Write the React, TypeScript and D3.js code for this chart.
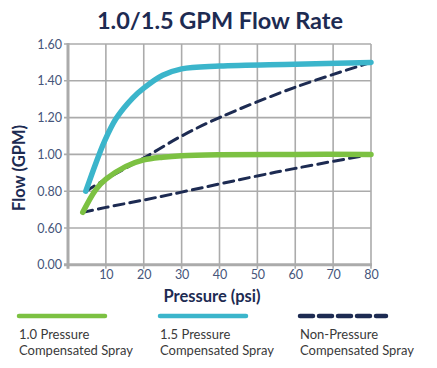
import { useEffect, useRef } from "react";
import * as d3 from "d3";

// pressure (psi) vs flow (GPM)
const pc10Pressure = [3.9, 7.4, 10, 15.3, 20, 25, 30, 40, 60, 80];
const pc10Flow = [0.685, 0.81, 0.865, 0.935, 0.97, 0.985, 0.993, 0.998, 1.0, 1.0];

const pc15Pressure = [4.7, 7.4, 9.6, 12.7, 17, 20, 25, 30, 40, 60, 80];
const pc15Flow = [0.8, 0.955, 1.07, 1.195, 1.305, 1.36, 1.43, 1.465, 1.48, 1.49, 1.5];

const npcLowPressure = [3.9, 10, 20, 30, 50, 60, 80];
const npcLowFlow = [0.685, 0.712, 0.752, 0.795, 0.883, 0.924, 1.0];

const npcHighPressure = [4.7, 10, 20, 30, 40, 60, 80];
const npcHighFlow = [0.8, 0.865, 0.98, 1.1, 1.2, 1.365, 1.5];

const xTicks = [10, 20, 30, 40, 50, 60, 70, 80];
const yTicks = [0, 0.6, 0.8, 1.0, 1.2, 1.4, 1.6];

const legendLabels = [
  ["1.0 Pressure", "Compensated Spray"],
  ["1.5 Pressure", "Compensated Spray"],
  ["Non-Pressure", "Compensated Spray"],
];

const NAVY = "#1d2b52";
const GREEN = "#7cc142";
const CYAN = "#3bb5cb";
const GRID = "#ababab";
const FONT = "Lato, 'Open Sans', sans-serif";

const zip = (xs: number[], ys: number[]) => xs.map((x, i) => [x, ys[i]] as [number, number]);

export default function App() {
  const svgRef = useRef<SVGSVGElement>(null);

  useEffect(() => {
    document.body.style.margin = "0";
    if (!svgRef.current) return;
    const svg = d3.select(svgRef.current);
    svg.selectAll("*").remove();

    const x = d3.scaleLinear().domain([0, 80]).range([68, 371]);
    // broken axis: 0.00 sits one step below 0.60
    const y = d3.scaleLinear().domain([0, 0.6, 1.6]).range([264.8, 228, 44]);

    // title
    svg
      .append("text")
      .attr("x", 220)
      .attr("y", 29)
      .attr("text-anchor", "middle")
      .attr("font-family", FONT)
      .attr("font-weight", 700)
      .attr("font-size", 23.5)
      .attr("fill", NAVY)
      .text("1.0/1.5 GPM Flow Rate");

    // grid
    const grid = svg.append("g").attr("stroke", GRID).attr("stroke-width", 1.6);
    xTicks.forEach((t) =>
      grid.append("line").attr("x1", x(t)).attr("x2", x(t)).attr("y1", y(1.6)).attr("y2", y(0) + 4)
    );
    yTicks.slice(1).forEach((t) =>
      grid.append("line").attr("x1", x(0) - 4).attr("x2", x(80)).attr("y1", y(t)).attr("y2", y(t))
    );
    // axis lines
    svg
      .append("line")
      .attr("x1", x(0)).attr("x2", x(0))
      .attr("y1", y(1.6) - 1).attr("y2", y(0) + 4)
      .attr("stroke", GRID).attr("stroke-width", 3);
    svg
      .append("line")
      .attr("x1", x(0) - 4).attr("x2", x(80) + 1)
      .attr("y1", y(0)).attr("y2", y(0))
      .attr("stroke", GRID).attr("stroke-width", 3);

    // tick labels
    const yAxis = svg
      .append("g")
      .attr("transform", `translate(${x(0) - 6},0)`)
      .call(d3.axisLeft(y).tickValues(yTicks).tickFormat(d3.format(".2f")).tickSize(0).tickPadding(0));
    yAxis.select(".domain").remove();
    yAxis
      .selectAll("text")
      .attr("font-family", FONT)
      .attr("font-size", 12.5)
      .attr("fill", "#46557a");

    const xAxis = svg
      .append("g")
      .attr("transform", `translate(0,${y(0) + 4})`)
      .call(d3.axisBottom(x).tickValues(xTicks).tickSize(0).tickPadding(0));
    xAxis.select(".domain").remove();
    xAxis
      .selectAll("text")
      .attr("dy", "0.85em")
      .attr("font-family", FONT)
      .attr("font-size", 12.5)
      .attr("fill", "#46557a");

    // axis titles
    svg
      .append("text")
      .attr("transform", `translate(25,168) rotate(-90)`)
      .attr("text-anchor", "middle")
      .attr("font-family", FONT)
      .attr("font-weight", 700)
      .attr("font-size", 16.5)
      .attr("fill", NAVY)
      .text("Flow (GPM)");
    svg
      .append("text")
      .attr("x", 212)
      .attr("y", 302)
      .attr("text-anchor", "middle")
      .attr("font-family", FONT)
      .attr("font-weight", 700)
      .attr("font-size", 16.5)
      .attr("fill", NAVY)
      .text("Pressure (psi)");

    // series
    const line = d3
      .line<[number, number]>()
      .x((d) => x(d[0]))
      .y((d) => y(d[1]))
      .curve(d3.curveCatmullRom.alpha(0.5));

    const series = [
      { data: zip(npcLowPressure, npcLowFlow), color: NAVY, width: 3, dash: "10,6" },
      { data: zip(npcHighPressure, npcHighFlow), color: NAVY, width: 3, dash: "10,6" },
      { data: zip(pc10Pressure, pc10Flow), color: GREEN, width: 5.5, dash: null },
      { data: zip(pc15Pressure, pc15Flow), color: CYAN, width: 5.5, dash: null },
    ];
    series.forEach((s) => {
      svg
        .append("path")
        .attr("d", line(s.data))
        .attr("fill", "none")
        .attr("stroke", s.color)
        .attr("stroke-width", s.width)
        .attr("stroke-linecap", "round")
        .attr("stroke-dasharray", s.dash);
    });

    // legend
    const legendX = [17, 158, 298];
    const legendStyle = [
      { color: GREEN, dash: null },
      { color: CYAN, dash: null },
      { color: NAVY, dash: "13,6" },
    ];
    legendX.forEach((lx, i) => {
      svg
        .append("line")
        .attr("x1", lx + 2).attr("x2", lx + 88)
        .attr("y1", 316).attr("y2", 316)
        .attr("stroke", legendStyle[i].color)
        .attr("stroke-width", 4.5)
        .attr("stroke-linecap", "round")
        .attr("stroke-dasharray", legendStyle[i].dash);
      legendLabels[i].forEach((txt, j) => {
        svg
          .append("text")
          .attr("x", lx + 2)
          .attr("y", 339 + j * 16)
          .attr("font-family", FONT)
          .attr("font-size", 13)
          .attr("fill", "#3a3a3a")
          .text(txt);
      });
    });
  }, []);

  return <svg ref={svgRef} width={437} height={368} style={{ display: "block" }} />;
}
